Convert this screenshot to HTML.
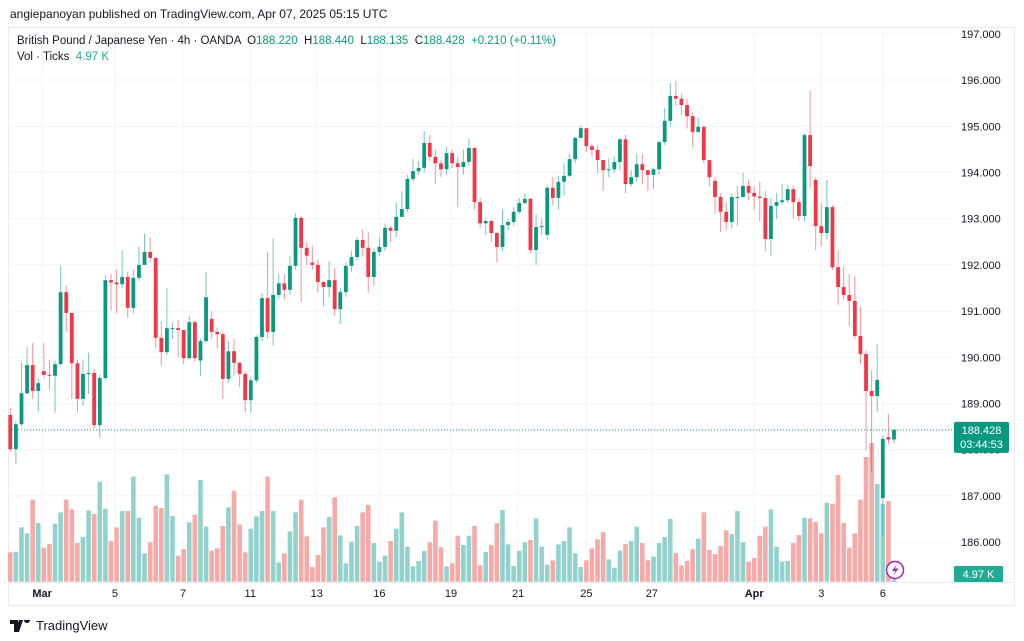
<!DOCTYPE html>
<html><head><meta charset="utf-8">
<style>
html,body{margin:0;padding:0;background:#fff;}
body{width:1024px;height:641px;overflow:hidden;position:relative;font-family:"Liberation Sans",sans-serif;color:#131722;}
#hdr{position:absolute;left:10px;top:7px;font-size:12px;color:#131722;}
#frame{position:absolute;left:8px;top:27px;width:1007px;height:579px;border:1px solid #e8eaef;box-sizing:border-box;}
#legend{position:absolute;left:17px;top:33px;font-size:11.5px;line-height:16px;color:#131722;}
.g{color:#089981}
.v{color:#26a69a}
#logo{position:absolute;left:10px;top:618px;font-size:13px;color:#131722;display:flex;align-items:center;gap:4px;}
svg{position:absolute;left:0;top:0;}
</style></head><body>
<div id="hdr">angiepanoyan published on TradingView.com, Apr 07, 2025 05:15 UTC</div>
<div id="frame"></div>
<svg id="chart" width="1024" height="641"></svg>
<div id="legend">
<div>British Pound / Japanese Yen · 4h · OANDA &nbsp;O<span class="g">188.220</span> &nbsp;H<span class="g">188.440</span> &nbsp;L<span class="g">188.135</span> &nbsp;C<span class="g">188.428</span> &nbsp;<span class="g">+0.210 (+0.11%)</span></div>
<div>Vol · Ticks &nbsp;<span class="v">4.97 K</span></div>
</div>
<div id="logo"><svg width="22" height="12" style="position:static" viewBox="0 0 22 12"><path d="M0 0h8v12H4V4H0z M9 0h4l-4 12H5z M14 0a3 3 0 1 1 0 .1z" fill="#131722"/></svg><span>TradingView</span></div>
<script>
const closes=[188.01,188.55,189.22,189.83,189.27,189.44,189.62,189.60,189.85,191.41,190.96,189.87,189.10,189.64,189.66,188.53,189.55,191.67,191.62,191.58,191.74,191.07,191.72,192.00,192.28,192.15,190.42,190.11,190.63,190.63,190.59,189.98,190.76,189.98,190.35,191.30,190.55,190.50,189.53,190.13,189.88,189.64,189.07,189.50,190.44,191.28,190.55,191.35,191.60,191.46,191.98,193.02,192.37,192.20,192.00,191.63,191.52,191.67,191.04,191.41,191.98,192.17,192.54,192.37,191.74,192.28,192.39,192.80,192.74,193.04,193.21,193.86,194.03,194.10,194.64,194.34,194.20,194.07,194.42,194.20,194.12,194.23,194.53,193.36,192.90,192.95,192.69,192.39,192.86,192.93,193.15,193.34,193.43,192.32,192.82,192.84,193.67,193.45,193.80,193.93,194.29,194.75,194.96,194.57,194.49,194.27,194.05,194.07,194.23,194.72,193.75,193.90,194.18,194.05,193.95,194.07,194.66,195.12,195.66,195.60,195.46,195.22,194.88,194.99,194.27,193.90,193.47,193.15,192.93,193.47,193.47,193.71,193.56,193.48,193.45,192.56,193.28,193.36,193.40,193.64,193.36,193.06,194.81,194.14,192.84,192.69,193.25,191.95,191.52,191.35,191.22,190.46,190.07,189.27,189.16,189.51,188.23,188.22,188.428];
const opens=[188.75,188.01,188.55,189.22,189.83,189.27,189.70,189.62,189.60,189.85,191.41,190.96,189.87,189.10,189.64,189.66,188.53,189.55,191.67,191.62,191.58,191.74,191.07,191.72,192.00,192.28,192.15,190.42,190.11,190.63,190.63,190.59,189.98,190.76,189.93,190.35,190.83,190.55,190.50,189.53,190.13,189.88,189.64,189.07,189.50,190.44,191.28,190.55,191.35,191.60,191.46,191.98,193.02,192.37,192.05,192.00,191.63,191.52,191.67,191.04,191.41,191.98,192.17,192.54,192.37,191.74,192.28,192.39,192.80,192.74,193.04,193.21,193.86,194.03,194.10,194.64,194.34,194.20,194.07,194.42,194.20,194.12,194.23,194.53,193.36,192.90,192.95,192.69,192.39,192.86,192.93,193.15,193.34,193.43,192.32,192.82,192.65,193.67,193.45,193.80,193.93,194.29,194.75,194.96,194.57,194.49,194.27,194.05,194.07,194.23,194.72,193.75,193.90,194.18,194.05,193.95,194.07,194.66,195.12,195.66,195.60,195.46,195.22,194.88,194.99,194.27,193.82,193.47,193.15,192.93,193.47,193.47,193.71,193.56,193.48,193.45,192.56,193.28,193.36,193.40,193.64,193.36,193.06,194.81,193.84,192.84,192.69,193.25,191.95,191.52,191.35,191.22,190.46,190.07,189.27,189.16,186.95,188.27,188.22];
const highs=[188.9,188.62,189.88,190.22,190.31,189.55,190.31,189.95,189.92,191.98,191.55,190.96,189.95,189.95,190.1,189.75,189.62,191.78,191.8,191.9,192.32,191.85,191.9,192.4,192.68,192.6,192.15,190.78,191.5,190.75,190.8,190.59,190.9,190.8,190.4,191.85,191.0,190.65,190.55,190.35,190.4,189.9,189.7,189.58,190.48,191.4,192.28,192.58,191.8,191.8,192.2,193.12,193.05,192.5,192.4,192.1,191.65,192.08,191.93,191.5,192.05,192.3,192.6,192.76,192.7,192.35,192.6,192.9,192.85,193.35,193.6,193.95,194.3,194.25,194.9,194.81,194.5,194.28,194.55,194.5,194.35,194.5,194.73,194.55,193.45,193.0,192.98,192.7,193.2,193.0,193.25,193.45,193.55,193.45,193.1,193.0,193.72,193.9,193.93,194.2,194.4,194.78,195.02,194.97,194.62,194.58,194.1,194.3,194.35,194.75,194.82,194.05,194.4,194.4,194.05,194.1,194.68,195.4,195.94,195.98,195.7,195.6,195.3,195.18,195.0,194.05,193.9,193.55,193.35,193.55,193.7,194.0,193.85,193.7,193.8,193.6,193.45,193.55,193.75,193.72,193.72,193.45,194.85,195.77,193.9,193.35,193.85,193.3,192.3,191.95,191.8,191.76,191.1,190.15,189.72,190.29,188.3,188.77,188.44];
const lows=[187.95,187.69,188.5,189.2,189.1,188.8,189.55,189.3,188.8,189.82,190.55,189.1,188.8,188.95,189.2,188.45,188.26,189.5,191.0,190.95,191.5,190.85,190.95,191.65,192.0,192.05,190.2,189.82,190.05,190.4,190.0,189.85,189.95,189.9,189.6,190.3,190.4,190.2,189.1,189.45,189.6,189.35,188.8,188.8,189.45,190.35,190.4,190.25,191.25,191.25,191.35,191.9,191.2,192.0,191.9,191.4,191.1,191.3,190.9,190.72,191.3,191.85,192.1,192.2,191.4,191.55,192.2,192.3,192.5,192.6,193.05,193.15,193.8,193.95,194.0,194.25,193.75,193.9,193.95,194.1,193.25,193.95,194.15,193.2,192.8,192.65,192.5,192.06,192.3,192.75,192.85,193.1,193.3,192.25,192.0,192.65,192.55,193.3,193.2,193.5,193.9,194.2,194.8,194.45,194.35,194.0,193.6,193.9,194.0,194.05,193.55,193.7,193.8,193.75,193.6,193.65,193.95,194.6,195.0,195.45,195.25,194.95,194.55,194.85,194.2,193.7,193.1,192.71,192.75,192.8,192.85,193.5,193.4,193.2,192.95,192.3,192.2,193.0,193.3,193.35,193.0,192.95,192.95,193.65,192.32,192.4,192.55,191.89,191.13,191.25,190.68,190.4,189.85,187.99,187.52,188.82,186.13,188.12,188.135];
const volumes=[88,90,163,145,246,176,102,113,174,208,246,217,116,134,214,203,300,219,122,163,212,212,315,192,85,118,228,221,322,197,78,98,178,201,305,165,93,100,167,223,273,172,88,159,196,212,315,212,58,85,151,208,246,136,44,80,163,194,253,139,55,120,167,208,230,116,60,78,122,159,208,105,46,62,92,118,183,103,46,55,138,110,138,167,49,89,110,176,215,112,47,92,118,125,190,105,51,64,112,122,163,85,44,64,100,127,149,67,42,93,113,122,165,116,64,75,116,134,188,86,49,62,98,129,208,95,83,107,154,143,212,118,60,71,138,165,217,105,60,62,116,140,192,190,179,145,237,234,320,176,102,145,246,374,416,293,233,242,7];
const priceTicks=[197,196,195,194,193,192,191,190,189,188,187,186];
const dateLabels=["Mar","5","7","11","13","16","19","21","25","27","Apr","3","6"];
const dateIndex=[5.7,18.7,30.9,42.9,54.8,66,78.8,90.8,103,114.7,133,145,156];
const lastPrice=188.428;

const svg=document.getElementById('chart');
const NS='http://www.w3.org/2000/svg';
const X0=10.3,PITCH=5.593;
function xScale(i){return X0+PITCH*i;}
function yPrice(p){return 34+(197-p)*46.18;}
function yVol(v){return 581.7-v/3;}
function mk(tag,attrs,parent){const e=document.createElementNS(NS,tag);for(const k in attrs)e.setAttribute(k,attrs[k]);(parent||svg).appendChild(e);return e;}

const grid=mk('g',{});


priceTicks.forEach(p=>{mk('line',{x1:9,x2:952,y1:yPrice(p),y2:yPrice(p),stroke:'#f0f3fa','stroke-width':1},grid);});
dateIndex.forEach(i=>{mk('line',{x1:xScale(i),x2:xScale(i),y1:28,y2:582,stroke:'#f0f3fa','stroke-width':1},grid);});
mk('line',{x1:9,x2:1014,y1:582.5,y2:582.5,stroke:'#e8eaef'},grid);

const vg=mk('g',{});


volumes.forEach((v,i)=>{
  const up=closes[i]>=opens[i];
  const r=mk('rect',{x:xScale(i)-2.3,y:yVol(v),width:4.6,height:581.7-yVol(v),fill:up?'#92d2cc':'#f7a9a7'},vg);
  
  
});

const cg=mk('g',{});


closes.forEach((c,i)=>{
  const o=opens[i],up=c>=o,col=up?'#089981':'#f23645',x=xScale(i);
  const g=mk('g',{},cg);
  
  
  mk('line',{x1:x,x2:x,y1:yPrice(highs[i]),y2:yPrice(lows[i]),stroke:col,'stroke-width':1,'stroke-opacity':0.55},g);
  const yt=yPrice(Math.max(o,c)),yb=yPrice(Math.min(o,c));
  mk('rect',{x:x-1.9,y:yt,width:3.8,height:Math.max(1,yb-yt),fill:col},g);
});

const pl=mk('line',{x1:9,x2:952,y1:yPrice(lastPrice),y2:yPrice(lastPrice),stroke:'#089981','stroke-width':1,'stroke-dasharray':'1 2'});



const ax=mk('g',{'font-family':'Liberation Sans, sans-serif','font-size':11,fill:'#131722'});


priceTicks.forEach(p=>{const t=mk('text',{x:961,y:yPrice(p)+4},ax);t.textContent=p.toFixed(3);});

const dx=mk('g',{'font-family':'Liberation Sans, sans-serif','font-size':11,fill:'#131722','text-anchor':'middle'});


dateLabels.forEach((d,i)=>{const t=mk('text',{x:xScale(dateIndex[i]),y:597,'font-weight':(d==='Mar'||d==='Apr')?'bold':'normal'},dx);t.textContent=d;});

const pb=mk('g',{});


const py=yPrice(lastPrice);
mk('rect',{x:954,y:py-8,width:55,height:31,rx:2,fill:'#089981'},pb);
let t=mk('text',{x:981.5,y:py+4,'font-size':11,fill:'#fff','text-anchor':'middle','font-family':'Liberation Sans, sans-serif'},pb);t.textContent=lastPrice.toFixed(3);
t=mk('text',{x:981.5,y:py+18,'font-size':11,fill:'#fff','text-anchor':'middle','font-family':'Liberation Sans, sans-serif'},pb);t.textContent='03:44:53';

const vb=mk('g',{});


mk('rect',{x:954,y:566,width:49,height:16,rx:1,fill:'#22ab94'},vb);
t=mk('text',{x:978.5,y:578,'font-size':11,fill:'#fff','text-anchor':'middle','font-family':'Liberation Sans, sans-serif'},vb);t.textContent='4.97 K';

const ic=mk('g',{});


mk('circle',{cx:895,cy:570,r:8.5,fill:'#fff',stroke:'#9c27b0','stroke-width':1.5},ic);
mk('path',{d:'M897 564 L892 571 L895.5 571 L893 576 L898.5 568.5 L895 568.5 Z',fill:'#9c27b0'},ic);
</script>
</body></html>
